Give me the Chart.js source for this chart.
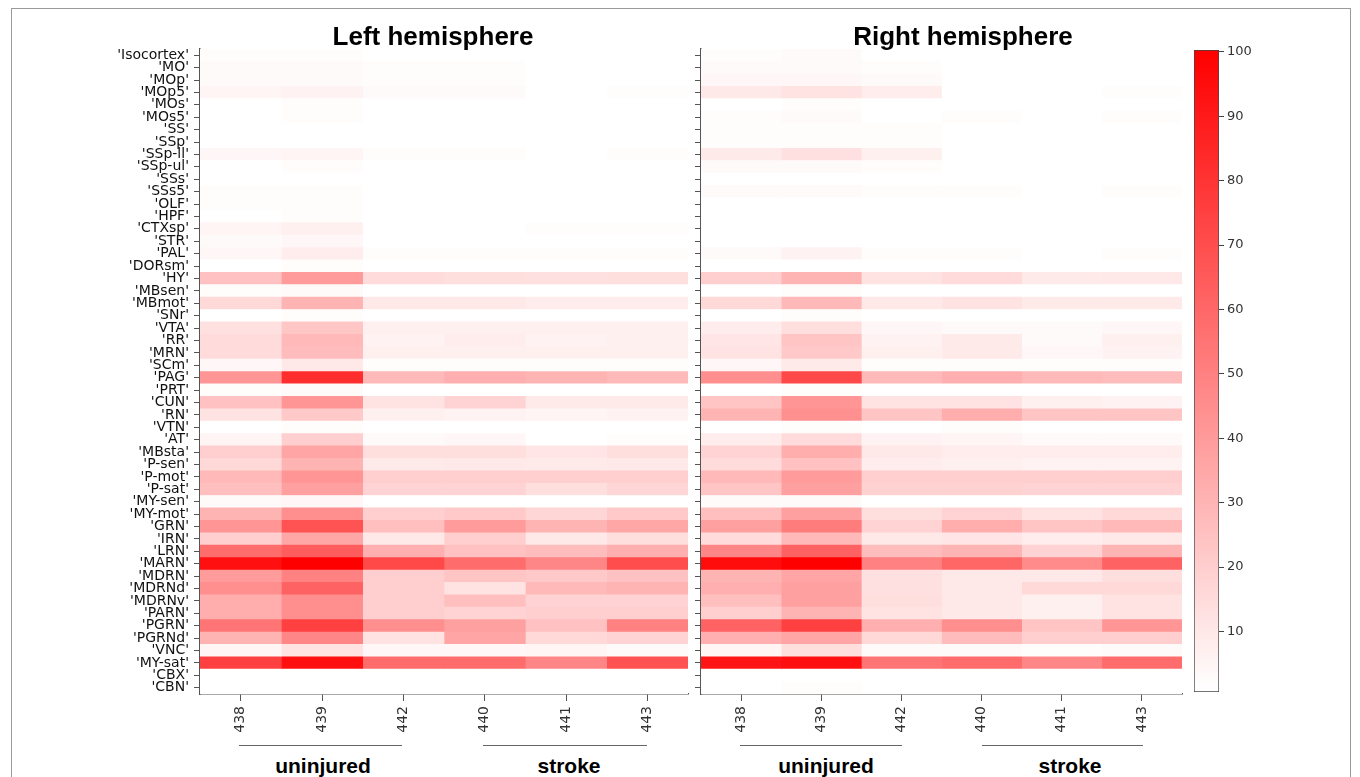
<!DOCTYPE html>
<html>
<head>
<meta charset="utf-8">
<script src="https://cdn.jsdelivr.net/npm/chart.js@4.4.1/dist/chart.umd.min.js"></script>
<style>
  html, body { margin:0; padding:0; background:#fff; }
  #fig { position:relative; width:1360px; height:777px; overflow:hidden; background:#fff; }
  #frame { position:absolute; left:11px; top:8px; width:1340px; height:900px; border:1px solid #9a9a9a; box-sizing:border-box; }
  canvas { position:absolute; }
  .title { position:absolute; font-family:"Liberation Sans", Arial, sans-serif; font-weight:bold; font-size:26px; line-height:26px; color:#000; white-space:nowrap; transform:translateX(-50%); }
  .grp { position:absolute; font-family:"Liberation Sans", Arial, sans-serif; font-weight:bold; font-size:21px; line-height:21px; color:#000; white-space:nowrap; transform:translateX(-50%); }
  .bracket { position:absolute; height:0; border-top:1.5px solid #666; }
</style>
</head>
<body>
<div id="fig">
  <div id="frame"></div>
  <canvas id="leftChart" width="700" height="745" style="left:0;top:0"></canvas>
  <canvas id="rightChart" width="500" height="745" style="left:690px;top:0"></canvas>
  <canvas id="barChart" width="180" height="777" style="left:1180px;top:0"></canvas>

  <div class="title" style="left:433px;top:23px">Left hemisphere</div>
  <div class="title" style="left:963px;top:23px">Right hemisphere</div>

  <div class="bracket" style="left:239px;top:745px;width:163px"></div>
  <div class="bracket" style="left:483px;top:745px;width:164px"></div>
  <div class="bracket" style="left:740px;top:745px;width:162px"></div>
  <div class="bracket" style="left:982px;top:745px;width:161px"></div>
  <div class="grp" style="left:323px;top:755px">uninjured</div>
  <div class="grp" style="left:569px;top:755px">stroke</div>
  <div class="grp" style="left:826px;top:755px">uninjured</div>
  <div class="grp" style="left:1070px;top:755px">stroke</div>
</div>

<script>
// brain regions, top to bottom
const regions = ["'Isocortex'","'MO'","'MOp'","'MOp5'","'MOs'","'MOs5'","'SS'","'SSp'","'SSp-ll'","'SSp-ul'",
  "'SSs'","'SSs5'","'OLF'","'HPF'","'CTXsp'","'STR'","'PAL'","'DORsm'","'HY'","'MBsen'",
  "'MBmot'","'SNr'","'VTA'","'RR'","'MRN'","'SCm'","'PAG'","'PRT'","'CUN'","'RN'",
  "'VTN'","'AT'","'MBsta'","'P-sen'","'P-mot'","'P-sat'","'MY-sen'","'MY-mot'","'GRN'","'IRN'",
  "'LRN'","'MARN'","'MDRN'","'MDRNd'","'MDRNv'","'PARN'","'PGRN'","'PGRNd'","'VNC'","'MY-sat'",
  "'CBX'","'CBN'"];

// animals (columns)
const animals = ['438','439','442','440','441','443'];

// left hemisphere, one array per animal
const L438 = [2,3,3,5,1,1,1,1,4,1, 1,2,2,1,5,3,4,1,25,2, 16,1,13,15,15,4,42,2,25,12, 1,5,20,16,28,26,3,30,42,20, 58,94,40,45,33,33,55,30,5,75, 1,1];
const L439 = [2,3,3,6,2,2,1,1,5,2, 1,2,2,2,7,4,8,2,40,3, 30,2,23,28,27,10,82,3,42,22, 2,20,36,30,42,38,4,45,68,35, 64,100,50,62,45,45,75,48,12,94, 1,1];
const L442 = [1,2,2,3,1,1,1,1,2,1, 1,1,1,1,1,1,2,1,15,1, 10,1,7,6,7,2,28,1,12,7, 1,3,14,9,20,18,1,20,26,10, 32,72,20,20,20,20,45,12,4,58, 1,1];
const L440 = [1,2,2,3,1,1,1,1,2,1, 1,1,1,1,1,1,2,1,14,1, 10,1,7,8,7,2,32,1,18,6, 1,4,14,10,20,18,1,22,40,20, 25,58,24,12,26,18,38,36,4,58, 1,1];
const L441 = [1,1,1,1,1,1,1,1,1,1, 1,1,1,1,2,1,2,1,13,1, 8,1,7,6,7,2,30,1,9,5, 1,1,11,9,20,14,1,17,30,10, 27,48,22,28,18,20,25,16,5,48, 1,1];
const L443 = [1,1,1,2,1,1,1,1,2,1, 1,1,1,1,2,1,2,1,14,1, 8,1,7,7,7,2,28,1,9,6, 1,2,14,10,20,17,1,22,35,14, 32,70,25,30,18,20,50,18,3,68, 1,1];

// right hemisphere
const R438 = [2,3,4,10,1,2,2,2,9,3, 1,3,1,1,1,1,3,1,20,1, 16,1,8,11,12,4,45,1,24,30, 1,8,18,15,28,24,3,26,38,15, 48,95,30,32,26,20,62,32,5,92, 1,1];
const R439 = [3,3,4,12,2,3,2,2,13,3, 1,3,1,1,1,1,6,1,30,2, 28,2,14,24,22,9,72,2,42,44, 2,15,33,25,40,38,3,38,52,28, 62,100,36,38,38,30,75,36,14,94, 1,2];
const R442 = [1,2,3,8,1,1,2,2,7,2, 1,2,1,1,1,1,2,1,12,1, 10,1,4,6,7,2,28,1,12,24, 1,6,10,8,20,19,1,14,18,10, 27,50,13,13,14,12,32,16,3,55, 1,1];
const R440 = [1,1,1,1,1,2,1,1,1,1, 1,2,1,1,1,1,2,1,15,1, 12,1,3,9,9,2,32,1,12,33, 2,5,8,7,20,19,1,18,33,11, 30,60,10,10,10,10,45,27,3,58, 1,1];
const R441 = [1,1,1,1,1,1,1,1,1,1, 1,1,1,1,1,1,1,1,9,1, 9,1,3,3,4,2,28,1,7,24, 1,3,8,6,20,18,1,12,24,8, 18,46,10,16,7,7,24,20,2,48, 1,1];
const R443 = [1,1,1,2,1,2,1,1,1,1, 1,2,1,1,1,1,2,1,10,1, 9,1,4,7,6,2,27,1,6,24, 1,3,8,6,20,18,1,16,28,10, 30,62,14,16,12,12,42,20,3,58, 1,1];

const leftCols = [L438, L439, L442, L440, L441, L443];
const rightCols = [R438, R439, R442, R440, R441, R443];

// colour scale
const cMin = 1, cMax = 100;
const cbTicks = [10,20,30,40,50,60,70,80,90,100];

function heat(v){
  const t = Math.max(0, Math.min(1, (v - cMin) / (cMax - cMin)));
  const g = Math.round(255 * (1 - t));
  return `rgb(255,${g},${g})`;
}

const AXIS = '#555';

function heatmap(id, cols, showLabels, yWidth, padRight){
  // every cell is one unit wide, stacked left to right; colour carries the value
  const datasets = cols.map((vals, c) => ({
    label: animals[c],
    data: vals.map(() => 1),
    backgroundColor: ctx => heat(vals[ctx.dataIndex]),
    borderWidth: 0,
    barPercentage: 1,
    categoryPercentage: 1
  }));
  return new Chart(document.getElementById(id), {
    type: 'bar',
    data: { labels: regions, datasets },
    options: {
      indexAxis: 'y',
      responsive: false,
      animation: false,
      layout: { padding: { top: 49, right: padRight, left: 0, bottom: 0 } },
      plugins: { legend: { display: false }, tooltip: { enabled: false } },
      scales: {
        y: {
          stacked: true,
          grid: { offset: false, drawOnChartArea: false, tickLength: 6, color: AXIS, lineWidth: 1 },
          border: { color: AXIS, width: 1.5 },
          ticks: { display: showLabels, autoSkip: false, padding: 5, color: '#111',
                   font: { family: 'DejaVu Sans', size: 14 } },
          afterFit: s => { s.width = yWidth; }
        },
        x: {
          type: 'linear', stacked: true, min: 0, max: animals.length,
          afterBuildTicks: s => { s.ticks = animals.map((a, i) => ({ value: i + 0.5 })); },
          grid: { drawOnChartArea: false, tickLength: 7, color: AXIS, lineWidth: 1 },
          border: { color: AXIS, width: 1.5 },
          ticks: { callback: (v, i) => animals[i], minRotation: 90, maxRotation: 90, padding: 5,
                   color: '#333', font: { family: 'DejaVu Sans', size: 14 } },
          afterFit: s => { s.height = 51; }
        }
      }
    }
  });
}

heatmap('leftChart', leftCols, true, 200, 12);
heatmap('rightChart', rightCols, false, 11, 8);

// colour bar
const cbLow = 0.6, cbHigh = 100.3;
new Chart(document.getElementById('barChart'), {
  type: 'bar',
  data: {
    labels: [''],
    datasets: [{
      data: [[cbLow, cbHigh]],
      backgroundColor: ctx => {
        const ch = ctx.chart;
        if (!ch.chartArea) return '#fff';
        const y = ch.scales.y;
        const g = ch.ctx.createLinearGradient(0, y.getPixelForValue(cMin), 0, y.getPixelForValue(cMax));
        g.addColorStop(0, heat(cMin));
        g.addColorStop(1, heat(cMax));
        return g;
      },
      borderColor: '#444',
      borderWidth: 1,
      borderSkipped: false,
      barPercentage: 1,
      categoryPercentage: 1
    }]
  },
  options: {
    responsive: false,
    animation: false,
    layout: { padding: { top: 50, bottom: 85, left: 14, right: 0 } },
    plugins: { legend: { display: false }, tooltip: { enabled: false } },
    scales: {
      x: { display: false },
      y: {
        position: 'right', min: cbLow, max: cbHigh,
        afterBuildTicks: s => { s.ticks = cbTicks.map(v => ({ value: v })); },
        grid: { drawOnChartArea: false, tickLength: 5, color: '#444' },
        border: { display: false },
        ticks: { padding: 3, color: '#333', font: { family: 'DejaVu Sans', size: 13 } },
        afterFit: s => { s.width = 141; }
      }
    }
  }
});
</script>
</body>
</html>
